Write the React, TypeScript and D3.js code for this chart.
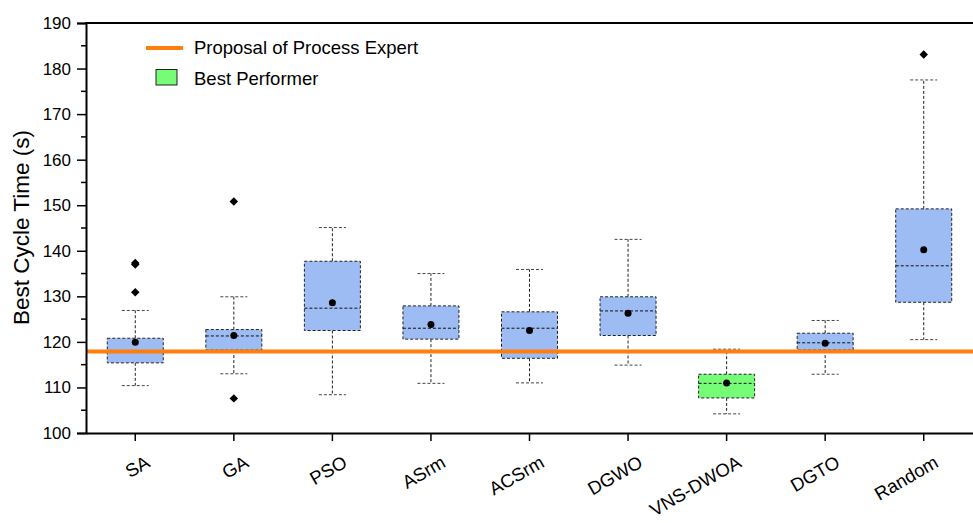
import React, { useRef, useEffect } from "react";
import * as d3 from "d3";

// (seconds)
const categories = ["SA", "GA", "PSO", "ASrm", "ACSrm", "DGWO", "VNS-DWOA", "DGTO", "Random"];
const whiskerLow = [110.4, 113.0, 108.4, 110.9, 111.0, 114.9, 104.2, 112.9, 120.5];
const q1 = [115.4, 118.2, 122.5, 120.6, 116.4, 121.4, 107.7, 118.2, 128.7];
const medians = [118.0, 121.3, 127.4, 123.0, 123.0, 126.8, 110.9, 119.8, 136.7];
const q3 = [120.8, 122.7, 137.7, 127.9, 126.6, 129.9, 112.9, 121.9, 149.2];
const whiskerHigh = [126.9, 129.9, 145.1, 135.0, 135.9, 142.5, 118.4, 124.7, 177.5];
const means = [119.9, 121.4, 128.6, 123.8, 122.5, 126.3, 111.0, 119.7, 140.2];
const outliers = [[137.0, 137.3, 130.9], [150.8, 107.6], [], [], [], [], [], [], [183.1]];
const bestPerformer = "VNS-DWOA";
const expertProposal = 117.9;
const yTicks = [100, 110, 120, 130, 140, 150, 160, 170, 180, 190];
const yMinorTicks = [105, 115, 125, 135, 145, 155, 165, 175, 185];

const W = 973;
const H = 523;
const FONT = "'Liberation Sans', Arial, Helvetica, sans-serif";

const BoxChart = () => {
  const svgRef = useRef<SVGSVGElement>(null);

  useEffect(() => {
    const svg = d3.select(svgRef.current);
    svg.selectAll("*").remove();

    const margin = { top: 23, right: 0, bottom: 90, left: 86 };

    const x = d3.scaleBand()
      .domain(categories)
      .range([margin.left, W - margin.right])
      .padding(0);

    const y = d3.scaleLinear()
      .domain([100, 190])
      .range([H - margin.bottom, margin.top]);

    const cx = (c: string) => (x(c) as number) + x.bandwidth() / 2;
    const boxW = 56;
    const capW = 27;

    const rows = categories.map((c, i) => ({
      c,
      lo: whiskerLow[i],
      q1: q1[i],
      med: medians[i],
      q3: q3[i],
      hi: whiskerHigh[i],
      mean: means[i],
      out: outliers[i],
    }));

    const g = svg.append("g");

    // whiskers
    rows.forEach(d => {
      const xc = cx(d.c);
      g.append("line")
        .attr("x1", xc).attr("x2", xc)
        .attr("y1", y(d.q3)).attr("y2", y(d.hi))
        .attr("stroke", "#222").attr("stroke-width", 1).attr("stroke-dasharray", "3,2");
      g.append("line")
        .attr("x1", xc).attr("x2", xc)
        .attr("y1", y(d.q1)).attr("y2", y(d.lo))
        .attr("stroke", "#222").attr("stroke-width", 1).attr("stroke-dasharray", "3,2");
      [d.lo, d.hi].forEach(v => {
        g.append("line")
          .attr("x1", xc - capW / 2).attr("x2", xc + capW / 2)
          .attr("y1", y(v)).attr("y2", y(v))
          .attr("stroke", "#444").attr("stroke-width", 1).attr("stroke-dasharray", "3,2");
      });
    });

    // boxes
    g.selectAll("rect.box")
      .data(rows)
      .join("rect")
      .attr("class", "box")
      .attr("x", d => cx(d.c) - boxW / 2)
      .attr("y", d => y(d.q3))
      .attr("width", boxW)
      .attr("height", d => y(d.q1) - y(d.q3))
      .attr("fill", d => (d.c === bestPerformer ? "#77fc77" : "#9dbcf3"))
      .attr("stroke", "#222")
      .attr("stroke-width", 1)
      .attr("stroke-dasharray", "3,2");

    // medians
    g.selectAll("line.med")
      .data(rows)
      .join("line")
      .attr("class", "med")
      .attr("x1", d => cx(d.c) - boxW / 2)
      .attr("x2", d => cx(d.c) + boxW / 2)
      .attr("y1", d => y(d.med))
      .attr("y2", d => y(d.med))
      .attr("stroke", "#111")
      .attr("stroke-width", 1)
      .attr("stroke-dasharray", "3,2");

    // expert proposal line
    g.append("line")
      .attr("x1", margin.left).attr("x2", W)
      .attr("y1", y(expertProposal)).attr("y2", y(expertProposal))
      .attr("stroke", "#ff7f0e").attr("stroke-width", 4);

    // means
    g.selectAll("circle.mean")
      .data(rows)
      .join("circle")
      .attr("class", "mean")
      .attr("cx", d => cx(d.c))
      .attr("cy", d => y(d.mean))
      .attr("r", 3.5)
      .attr("fill", "#000");

    // outliers
    const diamond = d3.symbol().type(d3.symbolDiamond2).size(46);
    rows.forEach(d => {
      d.out.forEach(v => {
        g.append("path")
          .attr("d", diamond() as string)
          .attr("transform", `translate(${cx(d.c)},${y(v)})`)
          .attr("fill", "#000");
      });
    });

    // y axis
    const yAxis = svg.append("g")
      .attr("transform", `translate(${margin.left},0)`)
      .call(d3.axisLeft(y).tickValues(yTicks).tickSize(9).tickPadding(6));
    yAxis.select(".domain").attr("stroke-width", 2).attr("stroke", "#000");
    yAxis.selectAll(".tick line").attr("stroke-width", 1.5);
    yAxis.selectAll(".tick text")
      .style("font-family", FONT)
      .style("font-size", "17px")
      .attr("fill", "#000");

    svg.append("g")
      .selectAll("line")
      .data(yMinorTicks)
      .join("line")
      .attr("x1", margin.left - 5).attr("x2", margin.left)
      .attr("y1", d => y(d)).attr("y2", d => y(d))
      .attr("stroke", "#000").attr("stroke-width", 1.5);

    // x axis
    const xAxis = svg.append("g")
      .attr("transform", `translate(0,${H - margin.bottom})`)
      .call(d3.axisBottom(x).tickSize(8).tickSizeOuter(0));
    xAxis.select(".domain").attr("stroke-width", 2).attr("stroke", "#000");
    xAxis.selectAll(".tick line").attr("stroke-width", 1.5);
    xAxis.selectAll(".tick text")
      .style("font-family", FONT)
      .style("font-size", "18.5px")
      .attr("fill", "#000")
      .attr("text-anchor", "end")
      .attr("dy", null)
      .attr("x", 16)
      .attr("y", 33)
      .attr("transform", "rotate(-30, 16, 33)");

    // top frame line
    svg.append("line")
      .attr("x1", margin.left - 1).attr("x2", W)
      .attr("y1", margin.top).attr("y2", margin.top)
      .attr("stroke", "#000").attr("stroke-width", 2);

    // y title
    svg.append("text")
      .attr("transform", `translate(29,${(128 + 327) / 2}) rotate(-90)`)
      .attr("text-anchor", "middle")
      .style("font-family", FONT)
      .style("font-size", "22.5px")
      .text("Best Cycle Time (s)");

    // legend
    const legend = svg.append("g").style("font-family", FONT).style("font-size", "18.5px");
    legend.append("line")
      .attr("x1", 146).attr("x2", 183).attr("y1", 48).attr("y2", 48)
      .attr("stroke", "#ff7f0e").attr("stroke-width", 4);
    legend.append("text").attr("x", 194).attr("y", 53.5).text("Proposal of Process Expert");
    legend.append("rect")
      .attr("x", 156).attr("y", 69.5).attr("width", 21).attr("height", 15.5)
      .attr("fill", "#77fc77").attr("stroke", "#222").attr("stroke-width", 1);
    legend.append("text").attr("x", 194).attr("y", 85).text("Best Performer");
  }, []);

  return (
    <svg
      ref={svgRef}
      width={W}
      height={H}
      style={{ position: "absolute", left: 0, top: 0, background: "#fff" }}
    />
  );
};

export default function App() {
  return <BoxChart />;
}
